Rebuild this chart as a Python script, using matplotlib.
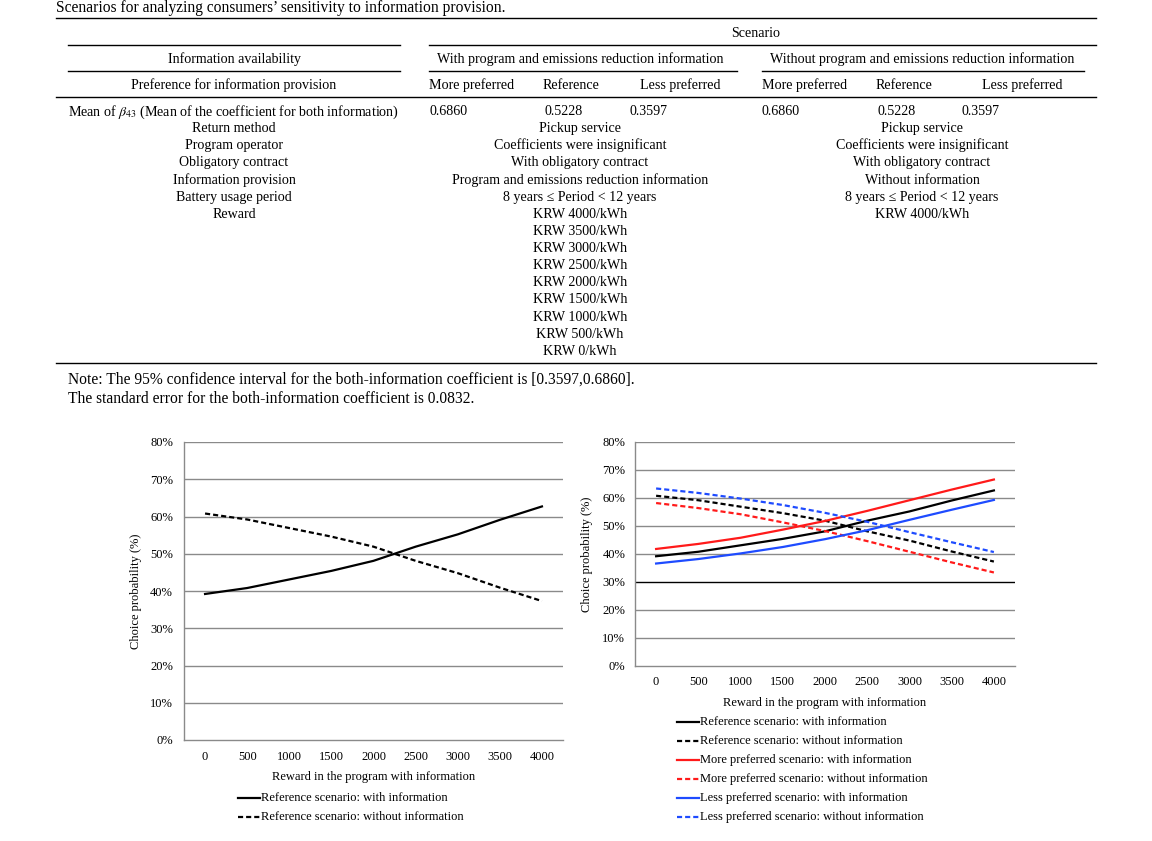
import matplotlib
matplotlib.use("Agg")
import matplotlib.pyplot as plt
from matplotlib.lines import Line2D

plt.rcParams['font.family'] = ['Liberation Serif', 'DejaVu Serif']
plt.rcParams['mathtext.fontset'] = 'stix'

W, H = 1152, 841

# ---------------- data ----------------
rewards = [0, 500, 1000, 1500, 2000, 2500, 3000, 3500, 4000]
ref_with = [39.2, 40.8, 43.1, 45.4, 48.1, 51.9, 55.2, 59.1, 62.7]
ref_without = [60.8, 59.2, 56.9, 54.6, 51.9, 48.1, 44.8, 40.9, 37.3]
more_with = [41.8, 43.6, 45.8, 48.7, 51.8, 55.4, 59.2, 63.0, 66.6]
more_without = [58.2, 56.4, 54.2, 51.3, 48.2, 44.6, 40.8, 37.0, 33.4]
less_with = [36.6, 38.2, 40.2, 42.5, 45.3, 48.5, 52.2, 55.8, 59.3]
less_without = [63.4, 61.8, 59.8, 57.5, 54.7, 51.5, 47.8, 44.2, 40.7]
y_ticks = [0, 10, 20, 30, 40, 50, 60, 70, 80]

legend_left = ["Reference scenario: with information",
               "Reference scenario: without information"]
legend_right = ["Reference scenario: with information",
                "Reference scenario: without information",
                "More preferred scenario: with information",
                "More preferred scenario: without information",
                "Less preferred scenario: with information",
                "Less preferred scenario: without information"]

caption = "Scenarios for analyzing consumers\u2019 sensitivity to information provision."
row_labels = [r"Mean of $\beta_{43}$ (Mean of the coefficient for both information)",
              "Return method", "Program operator", "Obligatory contract",
              "Information provision", "Battery usage period", "Reward"]
coef_values = ["0.6860", "0.5228", "0.3597"]
with_col = ["Pickup service", "Coefficients were insignificant", "With obligatory contract",
            "Program and emissions reduction information",
            "8 years \u2264 Period < 12 years"]
without_col = ["Pickup service", "Coefficients were insignificant", "With obligatory contract",
               "Without information", "8 years \u2264 Period < 12 years"]
reward_levels = ["KRW 4000/kWh", "KRW 3500/kWh", "KRW 3000/kWh", "KRW 2500/kWh",
                 "KRW 2000/kWh", "KRW 1500/kWh", "KRW 1000/kWh", "KRW 500/kWh", "KRW 0/kWh"]
notes = ["Note: The 95% confidence interval for the both-information coefficient is [0.3597,0.6860].",
         "The standard error for the both-information coefficient is 0.0832."]

BLACK = '#000000'
RED = '#FF1A1A'
BLUE = '#1E4BFF'
DASH = (2.3, 1.35)
TS = 10.1   # table font size
CS = 9.0    # chart font size

fig = plt.figure(figsize=(W / 100, H / 100), dpi=100)


def fx(x):
    return x / W


def fy(y):
    return 1 - y / H


def T(x, y, s, ha='center', size=TS):
    fig.text(fx(x), fy(y), s, ha=ha, va='center_baseline', fontsize=size)


def HL(x0, x1, y, lw=1.0):
    fig.add_artist(Line2D([fx(x0), fx(x1)], [fy(y), fy(y)], color='black', lw=lw,
                          transform=fig.transFigure))


# ---------------- table ----------------
T(56, 6, caption, ha='left', size=11.2)
HL(56, 1096, 18)
T(756, 32, "Scenario")
HL(68, 400, 45)
HL(429, 1096, 45)
T(234, 58, "Information availability")
T(580, 58, "With program and emissions reduction information")
T(922, 58, "Without program and emissions reduction information")
HL(68, 400, 71)
HL(429, 737, 71)
HL(762, 1084, 71)
T(234, 84, "Preference for information provision")
T(429, 84, "More preferred", ha='left')
T(571, 84, "Reference")
T(680, 84, "Less preferred")
T(762, 84, "More preferred", ha='left')
T(904, 84, "Reference")
T(1022, 84, "Less preferred")
HL(56, 1096, 97)

row_y = [110, 127, 144, 161, 179, 196, 213]
for y, lab in zip(row_y, row_labels):
    T(234, y, lab)
T(429, 110, coef_values[0], ha='left')
T(564, 110, coef_values[1])
T(629, 110, coef_values[2], ha='left')
T(762, 110, coef_values[0], ha='left')
T(877, 110, coef_values[1], ha='left')
T(961, 110, coef_values[2], ha='left')
for y, a, b in zip(row_y[1:], with_col, without_col):
    T(580, y, a)
    T(922, y, b)
for i, r in enumerate(reward_levels):
    T(580, 213 + i * 17.1, r)
T(922, 213, reward_levels[0])
HL(56, 1096, 363)
T(68, 378, notes[0], ha='left', size=11.2)
T(68, 397, notes[1], ha='left', size=11.2)

# ---------------- charts ----------------
xpos = list(range(len(rewards)))


def setup(ax, dark30=False):
    ax.set_xlim(-0.5, len(rewards) - 0.5)
    ax.set_ylim(0, 80)
    ax.set_yticks(y_ticks)
    ax.set_yticklabels([f"{v}%" for v in y_ticks])
    ax.set_xticks(xpos)
    ax.set_xticklabels([str(r) for r in rewards])
    for v in y_ticks[1:]:
        c = '#000000' if (dark30 and v == 30) else '#8a8a8a'
        ax.axhline(v, color=c, lw=1.0, zorder=1)
    for s in ['top', 'right']:
        ax.spines[s].set_visible(False)
    ax.spines['left'].set_color('#8a8a8a')
    ax.spines['bottom'].set_color('#8a8a8a')
    ax.spines['left'].set_linewidth(1.0)
    ax.spines['bottom'].set_linewidth(1.0)
    ax.tick_params(length=0, labelsize=CS)
    ax.set_ylabel("Choice probability (%)", fontsize=CS)
    ax.set_xlabel("Reward in the program with information", fontsize=CS)


# Left chart: plot area x 184-563, y 442-740
ax1 = fig.add_axes([fx(184), fy(740), (563 - 184) / W, (740 - 442) / H])
setup(ax1)
ax1.tick_params(axis='x', pad=8)
ax1.tick_params(axis='y', pad=8)
ax1.plot(xpos, ref_with, color=BLACK, lw=1.6, zorder=3)
ax1.plot(xpos, ref_without, color=BLACK, lw=1.6, dashes=DASH, zorder=3)
ax1.yaxis.set_label_coords((142 - 184) / 379, 0.5)
ax1.xaxis.set_label_coords(0.5, -(771 - 740) / 298)

# Right chart: plot area x 635-1015, y 442-666
ax2 = fig.add_axes([fx(635), fy(666), (1015 - 635) / W, (666 - 442) / H])
setup(ax2, dark30=True)
ax2.tick_params(axis='x', pad=7)
ax2.tick_params(axis='y', pad=7)
series = [(ref_with, BLACK, False), (ref_without, BLACK, True),
          (more_with, RED, False), (more_without, RED, True),
          (less_with, BLUE, False), (less_without, BLUE, True)]
for vals, col, dashed in series:
    if dashed:
        ax2.plot(xpos, vals, color=col, lw=1.6, dashes=DASH, zorder=3)
    else:
        ax2.plot(xpos, vals, color=col, lw=1.6, zorder=3)
ax2.yaxis.set_label_coords((593 - 635) / 380, 0.5)
ax2.xaxis.set_label_coords(0.5, -(697 - 666) / 224)


# ---------------- legends (manual) ----------------
def leg_entry(x0, x1, y, color, dashed, label):
    kw = dict(color=color, lw=1.6, transform=fig.transFigure)
    if dashed:
        kw['dashes'] = DASH
    fig.add_artist(Line2D([fx(x0), fx(x1)], [fy(y), fy(y)], **kw))
    fig.text(fx(x1 + 1), fy(y), label, ha='left', va='center', fontsize=CS)


leg_entry(238, 260, 798, BLACK, False, legend_left[0])
leg_entry(238, 260, 817, BLACK, True, legend_left[1])
for i, ((vals, col, dashed), lab) in enumerate(zip(series, legend_right)):
    leg_entry(677, 699, 722 + i * 19, col, dashed, lab)

fig.savefig("out.png", dpi=100)
